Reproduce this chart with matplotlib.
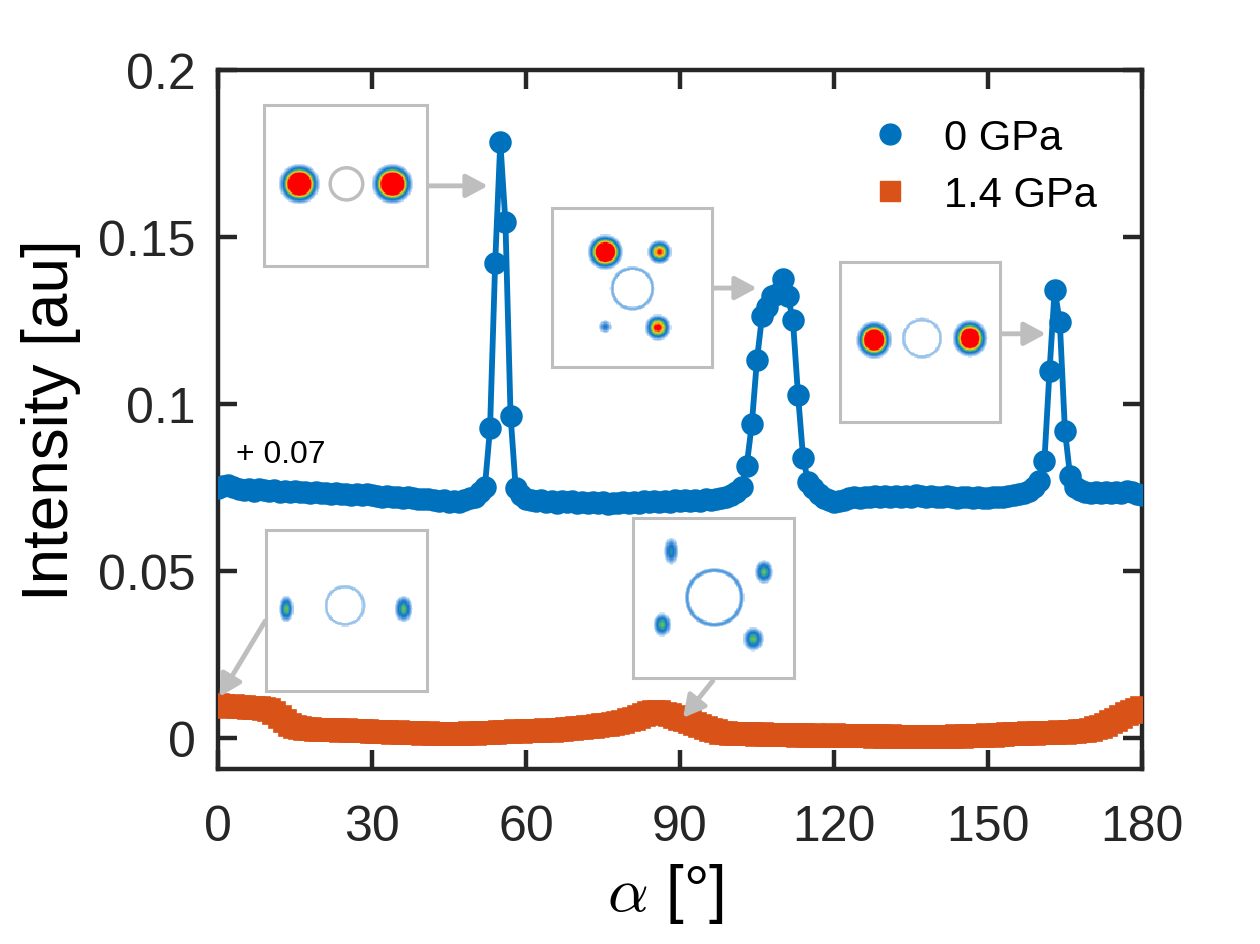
import matplotlib

matplotlib.use("Agg")
import matplotlib.pyplot as plt
import numpy as np
from matplotlib.colors import LinearSegmentedColormap
from matplotlib.lines import Line2D
from matplotlib.patches import Circle

plt.rcParams["font.family"] = ["Liberation Sans", "DejaVu Sans"]
plt.rcParams["mathtext.fontset"] = "cm"

# angulo alpha en grados, un punto por grado
alpha = list(range(0, 181))

# 0 GPa (sin desplazar; se dibuja con + 0.07)
OFFSET = 0.07
int_0gpa = [
    0.0048, 0.0055, 0.0058, 0.0052, 0.0045, 0.0042, 0.0045, 0.0040, 0.0044, 0.0041,
    0.0038, 0.0042, 0.0037, 0.0040, 0.0036, 0.0039, 0.0035, 0.0037, 0.0033, 0.0035,
    0.0032, 0.0034, 0.0031, 0.0033, 0.0030, 0.0031, 0.0028, 0.0030, 0.0027, 0.0029,
    0.0026, 0.0024, 0.0022, 0.0023, 0.0020, 0.0022, 0.0019, 0.0021, 0.0018, 0.0016,
    0.0014, 0.0016, 0.0011, 0.0009, 0.0012, 0.0007, 0.0010, 0.0006, 0.0012, 0.0018,
    0.0022, 0.0035, 0.0052, 0.0227, 0.0722, 0.1085, 0.0844, 0.0265, 0.0048, 0.0028,
    0.0016, 0.0012, 0.0009, 0.0011, 0.0006, 0.0009, 0.0004, 0.0008, 0.0005, 0.0009,
    0.0004, 0.0007, 0.0003, 0.0006, 0.0002, 0.0005, 0.0001, 0.0004, 0.0002, 0.0006,
    0.0003, 0.0007, 0.0004, 0.0008, 0.0005, 0.0009, 0.0006, 0.0010, 0.0007, 0.0011,
    0.0008, 0.0012, 0.0009, 0.0013, 0.0010, 0.0014, 0.0012, 0.0016, 0.0018, 0.0022,
    0.0028, 0.0036, 0.0050, 0.0115, 0.0240, 0.0432, 0.0564, 0.0590, 0.0624, 0.0630,
    0.0674, 0.0624, 0.0552, 0.0327, 0.0137, 0.0065, 0.0048, 0.0030, 0.0018, 0.0012,
    0.0006, 0.0009, 0.0013, 0.0018, 0.0021, 0.0019, 0.0022, 0.0020, 0.0023, 0.0021,
    0.0024, 0.0022, 0.0025, 0.0021, 0.0024, 0.0022, 0.0026, 0.0023, 0.0021, 0.0024,
    0.0022, 0.0020, 0.0023, 0.0021, 0.0019, 0.0022, 0.0020, 0.0018, 0.0021, 0.0019,
    0.0017, 0.0020, 0.0022, 0.0020, 0.0024, 0.0026, 0.0029, 0.0033, 0.0040, 0.0052,
    0.0070, 0.0130, 0.0400, 0.0642, 0.0545, 0.0220, 0.0085, 0.0052, 0.0042, 0.0037,
    0.0034, 0.0036, 0.0033, 0.0035, 0.0032, 0.0036, 0.0033, 0.0038, 0.0035, 0.0031,
    0.0026,
]

# 1.4 GPa
int_14gpa = [
    0.0100, 0.0096, 0.0094, 0.0095, 0.0092, 0.0093, 0.0090, 0.0091, 0.0089, 0.0088,
    0.0083, 0.0074, 0.0062, 0.0050, 0.0040, 0.0033, 0.0029, 0.0027, 0.0026, 0.0025,
    0.0024, 0.0024, 0.0023, 0.0024, 0.0022, 0.0023, 0.0021, 0.0022, 0.0020, 0.0021,
    0.0019, 0.0018, 0.0017, 0.0018, 0.0016, 0.0017, 0.0015, 0.0016, 0.0014, 0.0015,
    0.0013, 0.0014, 0.0013, 0.0012, 0.0013, 0.0012, 0.0013, 0.0012, 0.0013, 0.0014,
    0.0013, 0.0015, 0.0014, 0.0016, 0.0015, 0.0017, 0.0018, 0.0019, 0.0020, 0.0019,
    0.0021, 0.0020, 0.0022, 0.0021, 0.0023, 0.0022, 0.0024, 0.0025, 0.0026, 0.0028,
    0.0030, 0.0031, 0.0033, 0.0034, 0.0036, 0.0038, 0.0040, 0.0042, 0.0045, 0.0048,
    0.0053, 0.0058, 0.0064, 0.0070, 0.0076, 0.0079, 0.0078, 0.0073, 0.0068, 0.0063,
    0.0058, 0.0053, 0.0048, 0.0043, 0.0037, 0.0031, 0.0025, 0.0020, 0.0016, 0.0014,
    0.0013, 0.0012, 0.0013, 0.0011, 0.0012, 0.0010, 0.0011, 0.0009, 0.0010, 0.0008,
    0.0009, 0.0008, 0.0009, 0.0007, 0.0008, 0.0007, 0.0008, 0.0006, 0.0007, 0.0006,
    0.0008, 0.0007, 0.0006, 0.0007, 0.0005, 0.0006, 0.0005, 0.0006, 0.0004, 0.0005,
    0.0004, 0.0005, 0.0003, 0.0004, 0.0003, 0.0002, 0.0003, 0.0002, 0.0003, 0.0002,
    0.0004, 0.0003, 0.0004, 0.0003, 0.0005, 0.0004, 0.0006, 0.0005, 0.0007, 0.0006,
    0.0008, 0.0007, 0.0009, 0.0010, 0.0011, 0.0012, 0.0013, 0.0012, 0.0014, 0.0013,
    0.0015, 0.0014, 0.0016, 0.0015, 0.0017, 0.0016, 0.0018, 0.0019, 0.0020, 0.0022,
    0.0025, 0.0029, 0.0034, 0.0040, 0.0047, 0.0055, 0.0063, 0.0071, 0.0079, 0.0085,
    0.0089,
]

x_ticks = [0, 30, 60, 90, 120, 150, 180]
y_ticks = [0, 0.05, 0.1, 0.15, 0.2]
y_ticklabels = ["0", "0.05", "0.1", "0.15", "0.2"]
series_labels = ["0 GPa", "1.4 GPa"]

AZUL = "#0072BD"
NARANJA = "#D95319"
GRIS = "#BEBEBE"
OSCURO = "#262626"

# Patrones de difraccion de los recuadros: manchas (cx, cy, amp, sx, sy), agujero (cx, cy, r, anillo)
recuadros = [
    # (posicion en fraccion de ejes, manchas, agujero, borde gris del agujero)
    ([0.0498, 0.7196, 0.1764, 0.2303],
     [(0.215, 0.49, 2.6, 0.05, 0.05), (0.79, 0.49, 2.6, 0.05, 0.05)],
     (0.506, 0.49, 0.10, 0.0), True),
    ([0.3615, 0.5751, 0.1732, 0.2275],
     [(0.33, 0.28, 2.3, 0.045, 0.045), (0.67, 0.28, 1.0, 0.036, 0.036),
      (0.66, 0.755, 1.1, 0.038, 0.038), (0.33, 0.75, 0.35, 0.025, 0.025)],
     (0.50, 0.51, 0.115, 0.2), False),
    ([0.6732, 0.4964, 0.1732, 0.2289],
     [(0.21, 0.49, 2.3, 0.045, 0.048), (0.81, 0.48, 2.1, 0.045, 0.048)],
     (0.51, 0.48, 0.105, 0.17), False),
    ([0.0519, 0.1116, 0.1742, 0.2303],
     [(0.124, 0.49, 0.6, 0.025, 0.045), (0.857, 0.49, 0.6, 0.03, 0.045)],
     (0.49, 0.47, 0.107, 0.17), False),
    ([0.4491, 0.1302, 0.1742, 0.2289],
     [(0.236, 0.21, 0.45, 0.025, 0.05), (0.816, 0.34, 0.6, 0.03, 0.04),
      (0.18, 0.67, 0.6, 0.03, 0.04), (0.75, 0.76, 0.6, 0.035, 0.04)],
     (0.506, 0.50, 0.155, 0.25), False),
]

# flechas: (inicio, punta) en coordenadas de datos
flechas = [
    ((40.7, 0.1653), (52.6, 0.1653)),
    ((96.2, 0.1347), (105.0, 0.1347)),
    ((152.3, 0.1210), (161.3, 0.1210)),
    ((9.2, 0.0350), (0.3, 0.0123)),
    ((96.4, 0.0171), (90.6, 0.0060)),
]

cmap_det = LinearSegmentedColormap.from_list(
    "detector",
    ["#d6e7f7", "#5aa0e0", "#1a70c8", "#20a0b0", "#80c040", "#f0d020", "#f08020", "#ff0000"],
)
cmap_det.set_bad("white")
cmap_det.set_under("white")


def patron(manchas, agujero, n=140):
    yy, xx = np.mgrid[0:1:n * 1j, 0:1:n * 1j]
    img = np.zeros_like(xx)
    for cx, cy, amp, sx, sy in manchas:
        img += amp * np.exp(-((xx - cx) ** 2 / (2 * sx ** 2) + (yy - cy) ** 2 / (2 * sy ** 2)))
    hx, hy, hr, anillo = agujero
    r = np.hypot(xx - hx, yy - hy)
    img += anillo * np.exp(-((r - hr * 1.1) ** 2) / (2 * 0.012 ** 2))
    img[r < hr] = np.nan
    img[img < 0.1] = np.nan
    return img


fig = plt.figure(figsize=(12.6, 9.45), dpi=100)
ax = fig.add_axes([0.173, 0.1852, 0.7333, 0.7397])

y0 = np.array(int_0gpa) + OFFSET
ax.plot(alpha, y0, "-o", color=AZUL, lw=4.2, markersize=15, markeredgewidth=1.2, zorder=3)
ax.plot(alpha, int_14gpa, "-s", color=NARANJA, lw=4.2, markersize=15.5, markeredgewidth=1.2, zorder=3)

ax.set_xlim(0, 180)
ax.set_ylim(-0.0093, 0.2)
ax.set_xticks(x_ticks)
ax.set_yticks(y_ticks)
ax.set_yticklabels(y_ticklabels)
ax.tick_params(direction="in", length=13.5, width=3.2, color=OSCURO, top=True, right=True,
               labelsize=36, labelcolor=OSCURO)
ax.tick_params(axis="x", pad=25)
ax.tick_params(axis="y", pad=16)
for s in ax.spines.values():
    s.set_linewidth(3.2)
    s.set_color(OSCURO)

ax.set_ylabel("Intensity [au]", fontsize=46)
ax.yaxis.set_label_coords(-0.181, 0.5)
ax.yaxis.label.set_va("center")
ax.set_xlabel(r"$\alpha$ [°]", fontsize=46)
ax.xaxis.set_label_coords(0.484, -0.178)
ax.xaxis.label.set_va("center")

ax.text(3.5, 0.085, "+ 0.07", fontsize=23, va="center", ha="left")

handles = [
    Line2D([], [], marker="o", ls="none", color=AZUL, markersize=15),
    Line2D([], [], marker="s", ls="none", color=NARANJA, markersize=15),
]
ax.legend(handles, series_labels, loc="upper left", bbox_to_anchor=(0.673, 0.985),
          frameon=False, fontsize=30, handlelength=0.6, handletextpad=1.0,
          labelspacing=0.4, borderpad=0.4)

for inicio, punta in flechas:
    ax.annotate("", xy=punta, xytext=inicio,
                arrowprops=dict(arrowstyle="-|>,head_length=0.65,head_width=0.35",
                                color=GRIS, lw=3.5, shrinkA=0, shrinkB=0, mutation_scale=20),
                zorder=4)

for pos, manchas, agujero, borde in recuadros:
    ins = ax.inset_axes(pos)
    ins.imshow(patron(manchas, agujero), cmap=cmap_det, vmin=0.1, vmax=1.0,
               extent=(0, 1, 1, 0), aspect="auto", interpolation="nearest")
    if borde:
        ins.add_patch(Circle((agujero[0], agujero[1]), agujero[2], fc="none", ec=GRIS, lw=2.5))
    ins.set_xlim(0, 1)
    ins.set_ylim(1, 0)
    ins.set_xticks([])
    ins.set_yticks([])
    for s in ins.spines.values():
        s.set_color(GRIS)
        s.set_linewidth(2.2)

fig.savefig("out.png", dpi=100)
